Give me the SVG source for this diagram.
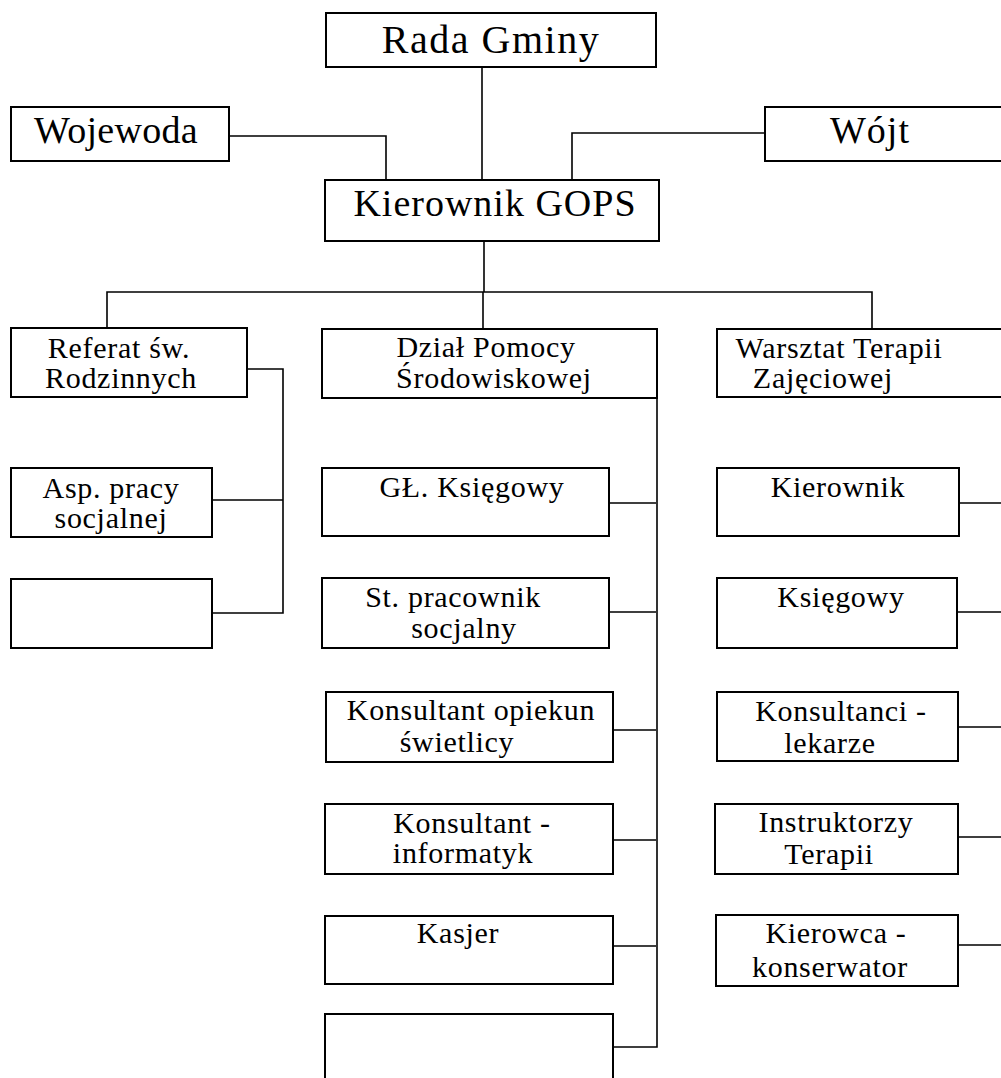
<svg xmlns="http://www.w3.org/2000/svg" width="1001" height="1078" viewBox="0 0 1001 1078">
<style>
.box{fill:#fff;stroke:#000;stroke-width:2}
.con{fill:none;stroke:#000;stroke-width:1.6}
text{font-family:"Liberation Serif","Times New Roman",serif;fill:#000;text-anchor:middle}
.big{font-size:38px;letter-spacing:1px}
.sm{font-size:30px;letter-spacing:0.7px}
</style>
<rect width="1001" height="1078" fill="#fff"/>
<g id="connectors">
<path class="con" d="M482 67V180"/>
<path class="con" d="M229 136H386V180"/>
<path class="con" d="M765 133H572V180"/>
<path class="con" d="M484 241V292"/>
<path class="con" d="M107 329V292H872V329"/>
<path class="con" d="M483 292V329"/>
<path class="con" d="M247 369H283V613H212M212 500H283"/>
<path class="con" d="M657 398V1047H613M609 503H656M609 612H656M613 730H656M613 840H656M613 946H656"/>
<path class="con" d="M959 503H1001M957 612H1001M958 727H1001M958 837H1001M958 945H1001"/>
</g>
<g id="rada"><rect class="box" x="326" y="13" width="330" height="54"/><text class="big" x="491" y="53" style="font-size:40px;letter-spacing:1.5px">Rada Gminy</text></g>
<g id="wojewoda"><rect class="box" x="11" y="107" width="218" height="54"/><text class="big" x="116" y="143" style="letter-spacing:0.3px">Wojewoda</text></g>
<g id="wojt"><rect class="box" x="765" y="107" width="250" height="54"/><text class="big" x="870" y="143">Wójt</text></g>
<g id="kierownik-gops"><rect class="box" x="325" y="180" width="334" height="61"/><text class="big" x="495" y="216">Kierownik GOPS</text></g>
<g id="referat"><rect class="box" x="11" y="328" width="236" height="69"/><text class="sm" x="119" y="358">Referat św.</text><text class="sm" x="121" y="388">Rodzinnych</text></g>
<g id="asp"><rect class="box" x="11" y="468" width="201" height="69"/><text class="sm" x="111" y="498">Asp. pracy</text><text class="sm" x="111" y="528">socjalnej</text></g>
<g id="empty-left"><rect class="box" x="11" y="579" width="201" height="69"/></g>
<g id="dzial"><rect class="box" x="322" y="329" width="335" height="69"/><text class="sm" x="486" y="357">Dział Pomocy</text><text class="sm" x="494" y="388">Środowiskowej</text></g>
<g id="gl-ksiegowy"><rect class="box" x="322" y="468" width="287" height="68"/><text class="sm" x="472" y="497">GŁ. Księgowy</text></g>
<g id="st-pracownik"><rect class="box" x="322" y="578" width="287" height="70"/><text class="sm" x="453" y="607">St. pracownik</text><text class="sm" x="464" y="638">socjalny</text></g>
<g id="konsultant-opiekun"><rect class="box" x="326" y="692" width="287" height="70"/><text class="sm" x="471" y="720">Konsultant opiekun</text><text class="sm" x="457" y="752">świetlicy</text></g>
<g id="konsultant-informatyk"><rect class="box" x="325" y="804" width="288" height="70"/><text class="sm" x="472" y="833">Konsultant -</text><text class="sm" x="463" y="863">informatyk</text></g>
<g id="kasjer"><rect class="box" x="325" y="916" width="288" height="68"/><text class="sm" x="458" y="943">Kasjer</text></g>
<g id="empty-mid"><rect class="box" x="325" y="1014" width="288" height="80"/></g>
<g id="warsztat"><rect class="box" x="717" y="329" width="300" height="68"/><text class="sm" x="839" y="358">Warsztat Terapii</text><text class="sm" x="823" y="388">Zajęciowej</text></g>
<g id="kierownik"><rect class="box" x="717" y="468" width="242" height="68"/><text class="sm" x="838" y="497">Kierownik</text></g>
<g id="ksiegowy"><rect class="box" x="717" y="578" width="240" height="70"/><text class="sm" x="841" y="607">Księgowy</text></g>
<g id="konsultanci"><rect class="box" x="717" y="692" width="241" height="69"/><text class="sm" x="841" y="721">Konsultanci -</text><text class="sm" x="830" y="753">lekarze</text></g>
<g id="instruktorzy"><rect class="box" x="715" y="804" width="243" height="70"/><text class="sm" x="836" y="832">Instruktorzy</text><text class="sm" x="829" y="864">Terapii</text></g>
<g id="kierowca"><rect class="box" x="716" y="915" width="242" height="71"/><text class="sm" x="836" y="943">Kierowca -</text><text class="sm" x="830" y="977">konserwator</text></g>
</svg>
